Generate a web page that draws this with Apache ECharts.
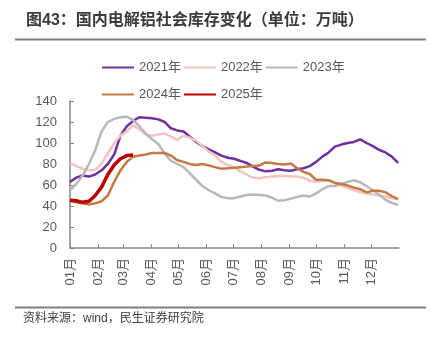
<!DOCTYPE html>
<html>
<head>
<meta charset="utf-8">
<script src="https://cdn.jsdelivr.net/npm/echarts@6/dist/echarts.min.js"></script>
<style>html,body{margin:0;padding:0;background:#fff;}#c{width:436px;height:343px;}</style>
</head>
<body>
<div id="c"></div>
<script>
// Day of year of each weekly observation
const days = [0,7,14,21,28,35,42,49,56,63,70,77,84,91,98,105,112,119,126,133,140,147,154,161,168,175,182,189,196,203,210,217,224,231,238,245,252,259,266,273,280,287,294,301,308,315,322,329,336,343,350,357,364];
const monthDays = [0,31,59,90,120,151,181,212,243,273,304,334];
const monthLabels = ['01月','02月','03月','04月','05月','06月','07月','08月','09月','10月','11月','12月'];
const seriesNames = ['2021年','2022年','2023年','2024年','2025年'];

const y2021 = [63,67,69,68,70,74,80,89,107,116,121,124.5,124,123.5,122.5,120,114,112,111,106,101,97,94,91,88,86,85,83,81,77.5,74.5,73,73.5,75,74,73.5,75,76,78,82,87,91,96.5,98.5,100,101,103.5,100,97,93.5,91,87,81];
const y2022 = [81,78,75.5,74,74.5,80,90,100,107,111,117,113,108,107,108,109,106,103,107,105,102,97,92,88,82,79,77,73,70,67,66.5,67.5,68,68.5,68.5,68,68,67,64,63,63.5,64.5,62,59.5,57,55,53,52,51,50,49,47.5,46.5];
const y2023 = [55,61,69,80,93,111,120,123,124.5,125,122,116,109,103.5,99,90,83,80,77,71,65,59,55,52,48.5,47.5,47.5,49,50.5,51,50.5,50,48,45,45.5,47,48.5,50,49,52,56,59,59,61,63,64.5,62.5,59,55,51,46,43,41];
const y2024 = [45,43.5,42.5,41.5,42.5,44.5,50,63,74,82,87,88,89,90.5,90.5,90.5,88,83.5,82,80,79,80,78.5,77,75.5,76,76.5,77,77.5,78,78.5,81.5,81,80,79.5,80.5,76,72.5,70.5,65,65,64.5,62,61,59.5,57.5,56,53,54.5,54.5,53,49.5,46.5];
const y2025 = [45.5,45,43.5,44.5,50,58,70,79,85,88,88.5];

const colors = ['#7030A0','#F2C4C4','#B8B8B8','#C47A42','#C00000'];
const widths = [2.5,2.5,2.5,2.5,3.5];
const allY = [y2021,y2022,y2023,y2024,y2025];

const font = "'Liberation Sans','Noto Sans CJK SC',sans-serif";
const chart = echarts.init(document.getElementById('c'), null, {renderer:'canvas'});
chart.setOption({
  animation:false,
  backgroundColor:'#fff',
  title:{
    text:'图43：国内电解铝社会库存变化（单位：万吨）',
    left:21, top:8,
    textStyle:{fontSize:16,fontWeight:'bold',color:'#3b3b3b',fontFamily:font}
  },
  graphic:[
    {type:'rect',shape:{x:15,y:38.5,width:411,height:2},style:{fill:'#7f7f7f'}},
    {type:'rect',shape:{x:15,y:306.5,width:411,height:2},style:{fill:'#7f7f7f'}},
    {type:'text',left:23,top:313,style:{text:'资料来源：wind，民生证券研究院',fontSize:12,fill:'#404040',fontFamily:font}}
  ],
  legend:{
    left:96, top:50, width:250,
    itemWidth:32, itemHeight:14, itemGap:2,
    itemStyle:{opacity:0},
    textStyle:{fontSize:13,color:'#595959',lineHeight:25,fontFamily:font},
    data:seriesNames
  },
  grid:{left:70,right:37,top:101,bottom:95,containLabel:false},
  xAxis:{
    type:'value', min:0, max:365,
    axisLine:{show:true,lineStyle:{color:'#868686',width:1.5}},
    axisTick:{show:true,inside:true,length:4,customValues:monthDays,lineStyle:{color:'#868686'}},
    splitLine:{show:false},
    axisLabel:{
      customValues:monthDays, rotate:90, margin:10, fontSize:13, color:'#595959', fontFamily:font,
      formatter:function(v){const i=monthDays.indexOf(v);return i>=0?monthLabels[i]:'';}
    }
  },
  yAxis:{
    type:'value', min:0, max:140, interval:20,
    axisLine:{show:true,lineStyle:{color:'#868686',width:1.5}},
    axisTick:{show:true,inside:true,length:4,lineStyle:{color:'#868686'}},
    splitLine:{show:false},
    axisLabel:{fontSize:13,color:'#595959',margin:13,fontFamily:font}
  },
  series: seriesNames.map((n,k)=>({
    name:n, type:'line', symbol:'none', smooth:false,
    data: allY[k].map((v,i)=>[days[i],v]),
    lineStyle:{color:colors[k],width:widths[k]},
    itemStyle:{color:colors[k]}
  }))
});
</script>
</body>
</html>
